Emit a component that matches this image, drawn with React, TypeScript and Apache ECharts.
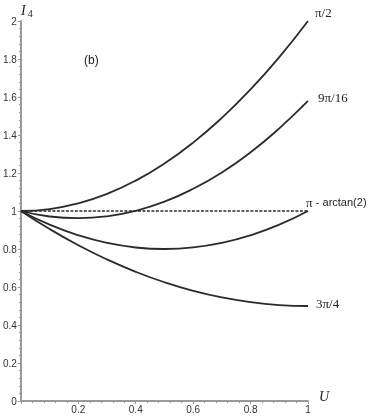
import React, { useEffect, useRef } from "react";
import * as echarts from "echarts";

const U = [0, 0.1, 0.2, 0.3, 0.4, 0.5, 0.6, 0.7, 0.8, 0.9, 1];
const piOver2 = [1, 1.01, 1.04, 1.09, 1.16, 1.25, 1.36, 1.49, 1.64, 1.81, 2];
const nine16 = [1, 0.971, 0.962, 0.972, 1.001, 1.049, 1.117, 1.203, 1.309, 1.435, 1.579];
const piArctan = [1, 0.928, 0.872, 0.832, 0.808, 0.8, 0.808, 0.832, 0.872, 0.928, 1];
const threeQuarter = [1, 0.905, 0.82, 0.745, 0.68, 0.625, 0.58, 0.545, 0.52, 0.505, 0.5];
const dashedU = [0, 1];
const dashedI = [1, 1];

const curveNames = ["π/2", "9π/16", "π - arctan(2)", "3π/4"];

const pair = (xs: number[], ys: number[]) => xs.map((x, i) => [x, ys[i]]);

export default function App() {
  const ref = useRef<HTMLDivElement>(null);
  useEffect(() => {
    const chart = echarts.init(ref.current!, null, { renderer: "svg" });
    const lineColor = "#2b2b2b";
    const serif = "'Liberation Serif', 'DejaVu Serif', serif";
    const sans = "'Liberation Sans', 'Noto Sans', sans-serif";
    const mk = (name: string, ys: number[], offset: number[], rich?: boolean) => ({
      type: "line",
      name,
      data: pair(U, ys),
      smooth: true,
      showSymbol: false,
      lineStyle: { color: lineColor, width: 1.8 },
      endLabel: {
        show: true,
        offset,
        formatter: rich ? "{a|π} {b|- arctan(2)}" : name,
        fontFamily: serif,
        fontSize: 13,
        color: "#222",
        rich: rich
          ? {
              a: { fontFamily: serif, fontSize: 13, color: "#222" },
              b: { fontFamily: sans, fontSize: 11, color: "#222" },
            }
          : undefined,
      },
      z: 3,
    });
    chart.setOption({
      animation: false,
      grid: { left: 20, right: 66, top: 21, bottom: 15 },
      xAxis: {
        type: "value",
        min: 0,
        max: 1,
        interval: 0.2,
        axisLine: { show: true, lineStyle: { color: "#9a9a9a", width: 2 } },
        axisTick: { show: true, length: 3, lineStyle: { color: "#9a9a9a" } },
        minorTick: { show: true, splitNumber: 5, length: 2, lineStyle: { color: "#9a9a9a" } },
        axisLabel: {
          fontFamily: sans,
          fontSize: 10,
          color: "#333",
          margin: 3,
          formatter: (v: number) => (v === 0 ? "" : String(v)),
        },
        splitLine: { show: false },
      },
      yAxis: {
        type: "value",
        min: 0,
        max: 2,
        interval: 0.2,
        axisLine: { show: true, lineStyle: { color: "#9a9a9a", width: 2 } },
        axisTick: { show: true, length: 3, lineStyle: { color: "#9a9a9a" } },
        minorTick: { show: true, splitNumber: 5, length: 2, lineStyle: { color: "#9a9a9a" } },
        axisLabel: { fontFamily: sans, fontSize: 10, color: "#333", margin: 4 },
        splitLine: { show: false },
      },
      graphic: [
        {
          type: "text",
          left: 21,
          top: 3,
          style: {
            text: "{i|I}{s|4}",
            rich: {
              i: { fontFamily: serif, fontStyle: "italic", fontSize: 14, fill: "#222" },
              s: { fontFamily: serif, fontSize: 10, fill: "#222", padding: [7, 0, 0, 2] },
            },
          },
        },
        {
          type: "text",
          left: 319,
          top: 389,
          style: { text: "U", fontFamily: serif, fontStyle: "italic", fontSize: 14, fill: "#222" },
        },
        {
          type: "text",
          left: 84,
          top: 54,
          style: { text: "(b)", fontFamily: sans, fontSize: 12, fill: "#222" },
        },
      ],
      series: [
        {
          type: "line",
          name: "dashed",
          data: pair(dashedU, dashedI),
          showSymbol: false,
          lineStyle: { color: lineColor, width: 1.3, type: [3, 1.5] },
          z: 2,
        },
        mk(curveNames[0], piOver2, [-1, -9]),
        mk(curveNames[1], nine16, [2, -3]),
        mk(curveNames[2], piArctan, [-10, -9], true),
        mk(curveNames[3], threeQuarter, [0, -3]),
      ],
    });
    return () => chart.dispose();
  }, []);
  return (
    <div
      ref={ref}
      style={{ position: "fixed", left: 0, top: 0, width: 374, height: 416 }}
    />
  );
}
